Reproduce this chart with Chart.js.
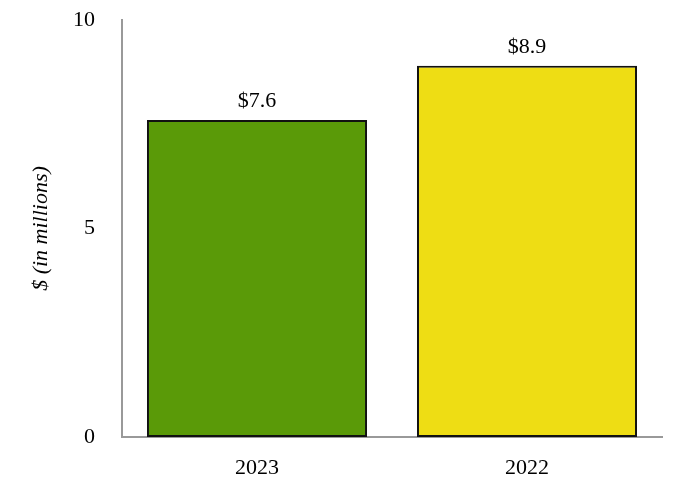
<!DOCTYPE html>
<html lang="en">
<head>
    <meta charset="UTF-8">
    <title>Revenue by year</title>
    <script src="https://cdn.jsdelivr.net/npm/chart.js"></script>
    <style>
        body { margin: 0; background: #fff; }
        #box { width: 682px; height: 500px; }
    </style>
</head>
<body>
    <div id="box"><canvas id="grafico"></canvas></div>

    <script>
        // dados do gráfico
        const anos = ['2023', '2022'];
        const valores = [7.6, 8.9];
        const rotulos = ['$7.6', '$8.9'];
        const ticksY = [0, 5, 10];

        const fonte = "'Liberation Serif', 'Times New Roman', serif";

        // escreve o valor em cima de cada barra
        const rotuloBarras = {
            id: 'rotuloBarras',
            afterDatasetsDraw(chart) {
                const ctx = chart.ctx;
                const meta = chart.getDatasetMeta(0);
                ctx.save();
                ctx.fillStyle = '#000';
                ctx.font = '22px ' + fonte;
                ctx.textAlign = 'center';
                ctx.textBaseline = 'bottom';
                meta.data.forEach((barra, i) => {
                    ctx.fillText(rotulos[i], barra.x, barra.y - 8);
                });
                ctx.restore();
            }
        };

        const config = {
            type: 'bar',
            data: {
                labels: anos,
                datasets: [{
                    data: valores,
                    backgroundColor: ['#5a9a08', '#eedd14'],
                    borderColor: '#111',
                    borderWidth: 2,
                    borderSkipped: false,
                    barPercentage: 0.815,
                    categoryPercentage: 1
                }]
            },
            options: {
                responsive: true,
                maintainAspectRatio: false,
                animation: false,
                layout: { padding: { top: 20, right: 20, left: 0, bottom: 0 } },
                plugins: {
                    legend: { display: false },
                    tooltip: { enabled: false }
                },
                scales: {
                    x: {
                        grid: { display: false, drawTicks: false },
                        border: { display: true, color: '#999', width: 2 },
                        ticks: { color: '#000', font: { family: fonte, size: 22 }, padding: 18 },
                        afterFit(scale) { scale.height = 63; }
                    },
                    y: {
                        min: 0,
                        max: 10,
                        grid: { display: false, drawTicks: false },
                        border: { display: true, color: '#999', width: 2 },
                        afterBuildTicks(scale) {
                            scale.ticks = ticksY.map(v => ({ value: v }));
                        },
                        ticks: { color: '#000', font: { family: fonte, size: 22 }, padding: 27 },
                        title: {
                            display: true,
                            text: '$ (in millions)',
                            color: '#000',
                            font: { family: fonte, size: 22, style: 'italic' },
                            padding: { top: 28, bottom: 0 }
                        },
                        afterFit(scale) {
                            scale.width = 122;
                            scale.paddingTop = 0;
                            scale.paddingBottom = 0;
                        }
                    }
                }
            },
            plugins: [rotuloBarras]
        };

        new Chart(document.getElementById('grafico').getContext('2d'), config);
    </script>
</body>
</html>
